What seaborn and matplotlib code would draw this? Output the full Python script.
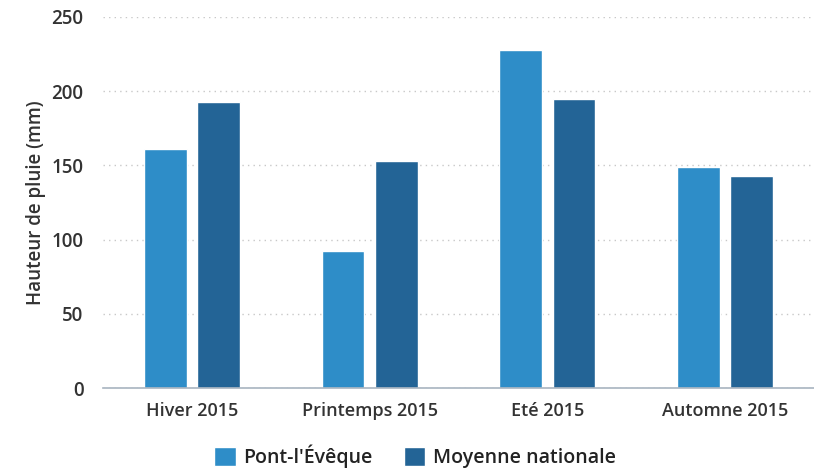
import pandas as pd
import seaborn as sns
import matplotlib.pyplot as plt
from matplotlib.ticker import FixedLocator

sns.set_style('white')
plt.rcParams['font.family'] = ['Open Sans', 'DejaVu Sans']

# rainfall per season (mm)
seasons = ['Hiver 2015', 'Printemps 2015', 'Eté 2015', 'Automne 2015']
pont_leveque = [161, 92, 228, 149]
moyenne_nat = [193, 153, 195, 143]
series = ["Pont-l'Évêque", 'Moyenne nationale']

df = pd.DataFrame({
    'saison': seasons * 2,
    'serie': [series[0]] * 4 + [series[1]] * 4,
    'pluie': pont_leveque + moyenne_nat,
})

fig = plt.figure(figsize=(8.14, 4.68), dpi=100)
ax = fig.add_axes([103 / 814, 1 - 388 / 468, 711 / 814, (388 - 17) / 468])

sns.barplot(data=df, x='saison', y='pluie', hue='serie', hue_order=series,
            palette=['#2e8dc8', '#236496'], width=0.6, gap=0.2,
            saturation=1, ax=ax, legend=True)

ax.set_ylim(0, 250)
ax.set_xlim(-0.5, 3.5)
ax.set_yticks([0, 50, 100, 150, 200, 250])
ax.yaxis.grid(True, linestyle=(0, (1, 3)), color='#c8c8c8', linewidth=1)
ax.set_axisbelow(True)

for side in ['top', 'right', 'left']:
    ax.spines[side].set_visible(False)
ax.spines['bottom'].set_color('#a8b4c0')
ax.spines['bottom'].set_linewidth(1.2)

ax.tick_params(axis='x', length=0, pad=10, labelsize=13, labelcolor='#333333')
ax.tick_params(axis='y', length=0, pad=14, labelsize=13.5, labelcolor='#333333')
ax.xaxis.set_minor_locator(FixedLocator([-0.5, 0.5, 1.5, 2.5]))
ax.tick_params(axis='x', which='minor', length=10, color='#c0c8d0', width=1)
for lbl in ax.get_yticklabels() + ax.get_xticklabels():
    lbl.set_fontweight('semibold')

ax.set_xlabel('')
ax.set_ylabel('Hauteur de pluie (mm)', fontsize=13.5, color='#333333',
              labelpad=4, fontweight='semibold')

leg = ax.legend(loc='center', bbox_to_anchor=(0.439, -0.185), ncol=2, frameon=False,
                fontsize=14, handlelength=1.1, handleheight=1.1, handletextpad=0.4,
                columnspacing=1.6, labelcolor='#222222')
for t in leg.get_texts():
    t.set_fontweight('semibold')

plt.savefig('out.png', dpi=100)
plt.close()
